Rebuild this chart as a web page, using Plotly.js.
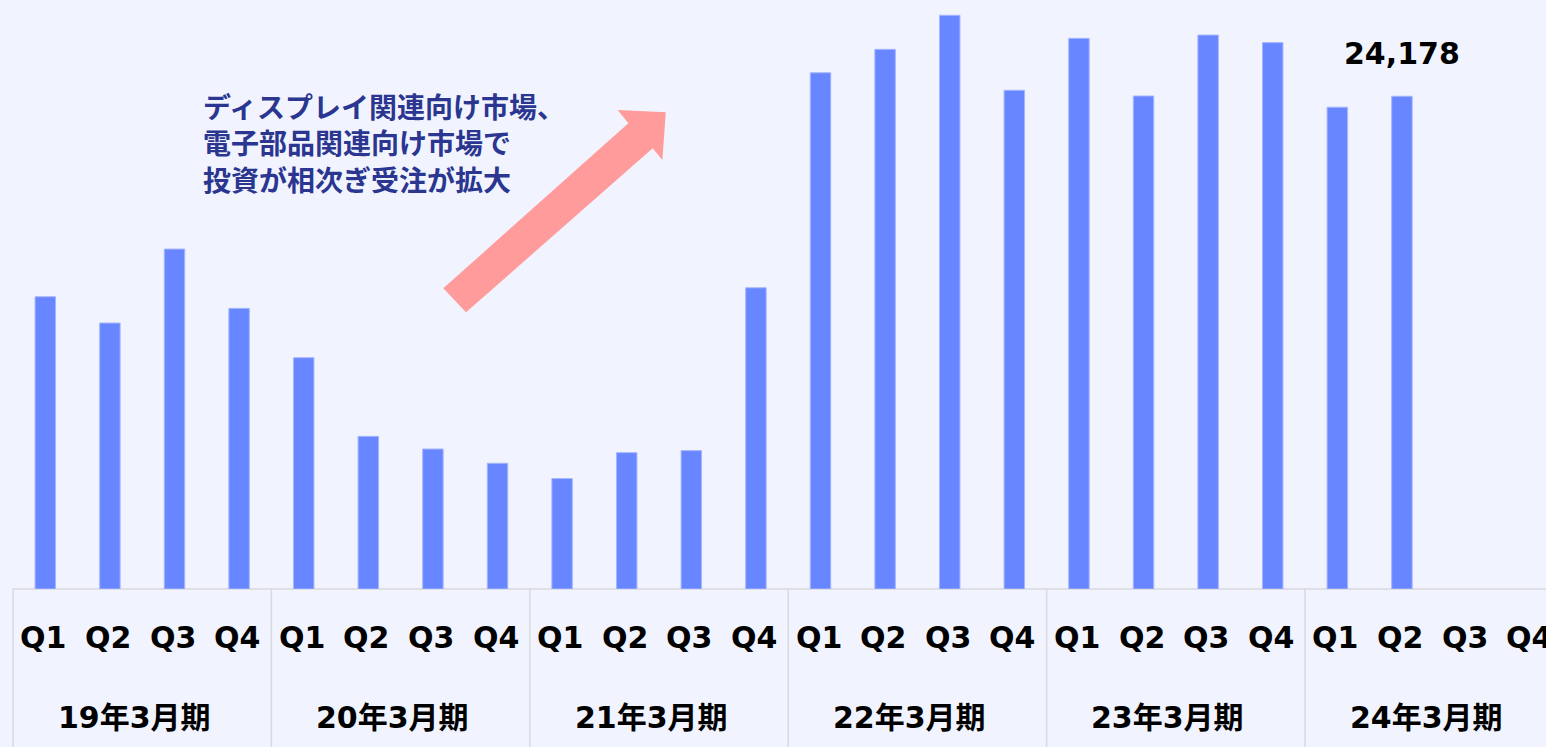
<!DOCTYPE html>
<html>
<head>
<meta charset="utf-8">
<script src="https://cdn.plot.ly/plotly-3.0.1.min.js"></script>
<style>
  html, body { margin: 0; padding: 0; background: #f1f4fe; overflow: hidden; }
  #chart { width: 1546px; height: 747px; }
</style>
</head>
<body>
<div id="chart"></div>
<script>
// ---- data ----
const years = ['19年3月期', '20年3月期', '21年3月期', '22年3月期', '23年3月期', '24年3月期'];
const quarters = ['Q1', 'Q2', 'Q3', 'Q4'];
const orders = [
  14340, 13050, 16680, 13770,
  11350, 7490, 6870, 6170,
  5420, 6690, 6790, 14780,
  25330, 26480, 28150, 24470,
  27020, 24190, 27180, 26810,
  23640, 24178
];
const highlightIndex = 21;
const noteText = 'ディスプレイ関連向け市場、<br>電子部品関連向け市場で<br>投資が相次ぎ受注が拡大';

// ---- derived ----
const slotCount = years.length * quarters.length;
const xIdx = orders.map((_, i) => i);
const xRange = [-0.5, 23.23];
const toPaperX = v => (v - xRange[0]) / (xRange[1] - xRange[0]);

const latin = '"DejaVu Sans", Verdana, "Noto Sans CJK JP", sans-serif';
const cjk = '"Noto Sans CJK JP", sans-serif';

const trace = {
  type: 'bar',
  x: xIdx,
  y: orders,
  marker: { color: '#6886ff', line: { color: '#a6b6ff', width: 1 } },
  hoverinfo: 'skip'
};

const annotations = [];
// quarter row
for (let i = 0; i < slotCount; i++) {
  annotations.push({
    xref: 'x', yref: 'paper', x: i, y: -0.0815,
    xanchor: 'center', yanchor: 'middle', showarrow: false, xshift: -2,
    text: quarters[i % quarters.length],
    font: { family: latin, size: 30, color: '#000000', weight: 'bold' }
  });
}
// year row
years.forEach((yr, k) => {
  annotations.push({
    xref: 'x', yref: 'paper', x: k * 4 + 1.5, y: -0.218,
    xanchor: 'center', yanchor: 'middle', showarrow: false, xshift: -8,
    text: yr,
    font: { family: latin, size: 30, color: '#000000', weight: 'bold' }
  });
});
// value label
annotations.push({
  xref: 'x', yref: 'y', x: highlightIndex, y: orders[highlightIndex],
  xanchor: 'center', yanchor: 'bottom', showarrow: false, yshift: 23,
  text: orders[highlightIndex].toLocaleString('en-US'),
  font: { family: latin, size: 30, color: '#000000', weight: 'bold' }
});
// note
annotations.push({
  xref: 'paper', yref: 'paper', x: 0.1225, y: 0.758,
  xanchor: 'left', yanchor: 'middle', align: 'left', showarrow: false,
  text: noteText,
  font: { family: cjk, size: 28, color: '#2b3690', weight: 'bold' }
});

// table lines
const shapes = [];
const lineStyle = { color: '#d8d9de', width: 1.5 };
shapes.push({ type: 'line', xref: 'paper', yref: 'paper', x0: 0, x1: 1, y0: 0, y1: 0, line: lineStyle, layer: 'below' });
for (let k = 0; k < years.length; k++) {
  const xp = toPaperX(k * 4 - 0.5);
  shapes.push({ type: 'line', xref: 'paper', yref: 'paper', x0: xp, x1: xp, y0: 0, y1: -0.3, line: lineStyle });
}
// arrow (paper coordinates)
const arrowPts = [
  [0.2807, 0.5105], [0.4014, 0.7907], [0.3945, 0.8132], [0.4258, 0.8093],
  [0.4236, 0.7284], [0.4173, 0.7482], [0.2955, 0.4698]
];
shapes.push({
  type: 'path', xref: 'paper', yref: 'paper',
  path: 'M ' + arrowPts.map(p => p[0] + ',' + p[1]).join(' L ') + ' Z',
  fillcolor: '#ff9b9b', line: { width: 0 }
});

const layout = {
  width: 1546, height: 747,
  margin: { l: 13, r: 0, t: 0, b: 158, pad: 0 },
  paper_bgcolor: '#f1f4fe', plot_bgcolor: '#f1f4fe',
  showlegend: false,
  bargap: 0.683,
  xaxis: { range: xRange, showgrid: false, zeroline: false, showticklabels: false, ticks: '', showline: false, fixedrange: true },
  yaxis: { range: [0, 28900], showgrid: false, zeroline: false, showticklabels: false, ticks: '', showline: false, fixedrange: true },
  annotations: annotations,
  shapes: shapes
};

Plotly.newPlot('chart', [trace], layout, { displayModeBar: false, staticPlot: true });
</script>
</body>
</html>
